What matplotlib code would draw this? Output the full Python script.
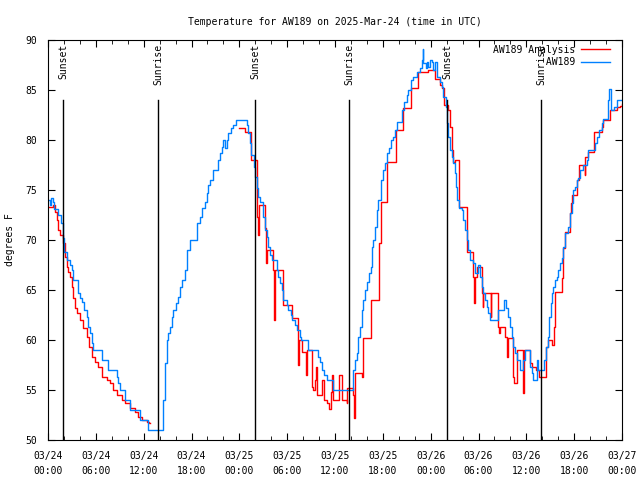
import numpy as np
import pandas as pd
import matplotlib
matplotlib.use("Agg")
import matplotlib.pyplot as plt
import matplotlib.dates as mdates
import matplotlib.transforms as mtransforms

plt.rcParams['font.family'] = ['DejaVu Sans Mono']
plt.rcParams['font.size'] = 7

start = pd.Timestamp('2025-03-24 00:00')

# AW189 observations (hours since start, degF)
obs_hours = [0.0, 0.25, 0.4, 0.6, 0.75, 1.3, 1.6, 1.85, 2.0, 2.35, 2.76, 2.95, 3.17, 3.8, 4.0, 4.22, 4.55, 4.85,
             5.06, 5.27, 5.48, 5.6, 6.73, 7.57, 8.6, 8.8, 9.0, 9.66, 10.29, 11.54, 12.58,
             14.26, 14.47, 14.68, 14.89, 15.1, 15.3, 15.5, 15.7, 16.1, 16.35, 16.56, 16.77, 17.18, 17.4, 17.8,
             18.65, 19.07, 19.28, 19.7, 19.9, 20.1, 20.3, 20.7, 21.36, 21.6, 21.8, 22.0, 22.2, 22.45, 22.6,
             23.0, 23.2, 23.55, 24.95, 25.1, 25.3, 25.5, 25.8, 25.97, 26.2, 26.4, 26.6, 27.0, 27.2, 27.43,
             27.63, 27.85, 28.06, 28.69, 28.89, 29.1, 29.31, 29.52, 29.94, 30.14, 30.44, 30.6, 30.98, 31.2,
             31.6, 31.7, 32.65, 33.83, 34.12, 34.33, 34.66, 34.96, 35.72, 38.3, 38.51, 38.72, 38.92, 39.14,
             39.35, 39.47, 39.76, 39.98, 40.3, 40.48, 40.68, 40.8, 41.02, 41.23, 41.43, 41.73, 42.06, 42.27,
             42.49, 42.77, 42.99, 43.31, 43.53, 43.82, 44.37, 44.66, 44.99, 45.2, 45.5, 45.82, 46.32, 46.66,
             46.88, 47.0, 47.1, 47.42, 47.58, 47.7, 47.92, 48.13, 48.33, 48.55, 48.76, 49.17, 49.38, 49.59,
             49.92, 50.09, 50.21, 50.43, 50.64, 50.84, 51.05, 51.18, 51.34, 51.59, 51.89, 52.1, 52.31, 52.52,
             52.72, 52.93, 53.35, 53.56, 53.98, 54.19, 54.4, 54.6, 54.82, 55.03, 55.23, 55.44, 56.48, 57.2,
             57.45, 57.74, 57.95, 58.16, 58.36, 58.58, 58.79, 59.2, 59.62, 59.83, 60.45, 60.66, 60.78, 61.3,
             61.5, 62.22, 62.47, 62.68, 62.88, 63.06, 63.26, 63.38, 63.6, 63.8, 64.0, 64.2, 64.42, 64.62,
             64.83, 65.26, 65.48, 65.69, 65.9, 66.1, 66.32, 66.52, 66.73, 67.15, 67.57, 67.78, 68.6, 68.9,
             69.15, 69.45, 69.66, 70.28, 70.4, 70.58, 71.0, 71.4, 72.0]
obs_temps = [74.0, 73.5, 74.2, 73.8, 73.1, 72.5, 71.7, 70.2, 68.8, 68.0, 67.5, 67.0, 66.0, 64.7, 64.2, 63.8, 63.0, 62.3,
             61.3, 60.7, 59.7, 59.0, 58.0, 57.0, 56.3, 55.7, 55.0, 54.0, 53.0, 52.0, 51.0,
             51.0, 54.0, 57.7, 60.0, 60.7, 61.3, 62.3, 63.0, 63.7, 64.3, 65.3, 66.0, 67.0, 69.0, 70.0,
             71.7, 72.3, 73.2, 73.8, 74.7, 75.5, 76.0, 77.0, 78.0, 78.7, 79.3, 80.0, 79.2, 80.0, 80.7,
             81.2, 81.5, 82.0, 81.5, 80.7, 79.7, 78.5, 77.3, 76.3, 75.2, 74.3, 73.8, 72.3, 71.0, 70.3,
             69.3, 68.5, 68.0, 67.0, 66.3, 65.7, 65.0, 64.0, 63.5, 63.0, 62.5, 62.0, 61.5, 61.0,
             60.3, 60.0, 59.0, 58.3, 57.8, 57.0, 56.5, 56.0, 55.0, 57.0, 58.0, 58.7, 60.3, 61.3,
             63.0, 64.0, 65.0, 65.8, 66.7, 67.3, 69.3, 70.0, 71.3, 73.0, 74.0, 76.0, 77.0, 77.7,
             78.7, 79.2, 80.0, 80.3, 81.0, 81.8, 83.0, 83.8, 84.5, 85.0, 86.0, 86.3, 86.8, 87.2,
             88.0, 89.1, 87.7, 87.2, 87.8, 87.3, 88.0, 87.8, 87.0, 87.8, 86.3, 85.8, 85.3, 84.3,
             83.3, 81.7, 80.3, 79.0, 78.3, 77.7, 76.7, 75.3, 74.0, 73.2, 73.0, 72.0, 71.0, 70.0,
             69.0, 68.0, 67.7, 66.7, 67.5, 66.3, 65.3, 64.7, 64.0, 63.3, 62.7, 62.0, 63.0, 64.0,
             63.2, 62.3, 61.3, 60.3, 59.3, 58.7, 58.0, 57.0, 58.0, 59.0, 57.3, 56.7, 56.0, 58.0,
             57.0, 58.0, 59.3, 60.3, 62.3, 63.7, 64.7, 65.3, 66.0, 66.3, 67.0, 67.7, 68.2, 69.3,
             70.7, 71.3, 72.7, 73.7, 75.0, 75.3, 76.0, 76.2, 77.0, 77.5, 78.0, 79.0, 79.7, 80.3,
             81.0, 81.7, 82.1, 84.0, 85.1, 83.0, 83.3, 84.0, 84.0]

# AW189 Analysis (hours since start, degF); NaN marks the gap
ana_hours = [0.0, 0.6, 0.88, 1.09, 1.29, 1.5, 1.84, 2.13, 2.35, 2.55, 2.76, 2.97, 3.17, 3.39, 3.6, 4.01, 4.43,
             4.85, 5.18, 5.48, 5.9, 6.31, 6.74, 7.36, 7.78, 8.19, 8.62, 9.24, 9.66, 10.29, 10.91, 11.33,
             11.75, 12.38, 12.71, 12.8,
             24.0, 24.71, 25.43, 25.46, 26.2, 26.4, 26.5, 27.2, 27.35, 27.4, 27.5, 28.26, 28.35, 28.47,
             29.52, 30.57, 31.32, 31.4, 31.48, 31.82, 32.33, 32.45, 33.08, 33.28, 33.5, 33.62, 33.7,
             34.4, 34.62, 34.96, 35.29, 35.46, 35.59, 35.79, 36.54, 36.84, 37.47, 37.54, 38.3, 38.42,
             38.55, 39.35, 39.47, 40.48, 41.52, 41.73, 42.56, 43.62, 44.57, 45.5, 46.45, 47.7, 48.55,
             49.17, 49.38, 49.67, 50.21, 50.43, 50.64, 50.84, 51.05, 51.59, 52.52, 53.35, 53.47, 53.6,
             53.77, 54.4, 54.53, 54.6, 55.53, 55.6, 56.48, 56.6, 56.7, 57.33, 57.54, 57.74, 58.36, 58.5,
             58.79, 59.6, 59.67, 59.77, 60.45, 60.66, 61.2, 61.63, 62.47, 62.77, 63.26, 63.47, 63.6,
             64.42, 64.55, 64.83, 65.46, 65.56, 65.69, 66.39, 66.64, 67.32, 67.4, 67.78, 68.49, 69.45,
             69.66, 70.49, 71.4, 71.74, 72.0]
ana_temps = [73.3, 73.5, 72.8, 72.0, 71.0, 70.5, 69.7, 68.3, 67.3, 66.8, 66.3, 65.3, 64.2, 63.2, 62.7, 62.0, 61.2,
             60.3, 59.3, 58.3, 57.8, 57.3, 56.3, 56.0, 55.7, 55.0, 54.5, 54.0, 53.7, 53.2, 52.8, 52.3,
             52.0, 51.8, 51.7, np.nan,
             81.2, 80.8, 79.7, 78.0, 72.3, 70.5, 73.5, 71.2, 69.2, 67.7, 69.0, 67.0, 62.0, 67.0,
             63.5, 62.2, 59.8, 57.5, 60.0, 58.8, 56.5, 59.0, 55.3, 55.0, 56.0, 57.3, 54.5,
             56.0, 54.0, 53.7, 53.1, 54.8, 56.5, 54.0, 56.5, 54.0, 53.7, 55.2, 54.5, 52.2,
             56.7, 56.3, 60.2, 64.0, 69.7, 73.8, 77.8, 81.0, 83.2, 85.2, 86.8, 87.0, 86.1,
             85.5, 85.2, 83.5, 83.0, 81.3, 79.0, 77.8, 78.0, 73.3, 68.8, 66.3, 63.7, 66.3,
             67.3, 64.7, 63.3, 64.7, 62.3, 64.7, 61.3, 60.7, 61.3, 60.3, 58.3, 60.2, 56.3, 55.7,
             59.0, 54.7, 57.7, 59.0, 57.7, 57.3, 57.0, 56.3, 59.3, 60.0, 59.5, 61.3, 64.8,
             66.2, 69.2, 70.8, 72.7, 73.7, 74.5, 76.0, 77.5, 76.5, 78.3, 78.8, 80.8, 81.3,
             82.0, 83.0, 83.3, 83.4, 83.6]

sun_labels = ['Sunset', 'Sunrise', 'Sunset', 'Sunrise', 'Sunset', 'Sunrise']
sun_hours = [1.88, 13.8, 25.97, 37.76, 50.05, 61.84]

obs_t = start + pd.to_timedelta(obs_hours, unit='h')
ana_t = start + pd.to_timedelta(ana_hours, unit='h')
sun_t = start + pd.to_timedelta(sun_hours, unit='h')

fig = plt.figure(figsize=(6.4, 4.8), dpi=100)
ax = fig.add_axes([48/640, 40/480, 574/640, 400/480])

ax.plot(ana_t, ana_temps, drawstyle='steps-post', color='#ff0000', lw=1.0, label='AW189 Analysis')
ax.plot(obs_t, obs_temps, drawstyle='steps-post', color='#0080ff', lw=1.0, label='         AW189')

trans = mtransforms.blended_transform_factory(ax.transData, ax.transAxes)
for t, lab in zip(sun_t, sun_labels):
    ax.axvline(t, ymin=0, ymax=0.85, color='black', lw=1.0)
    ax.text(t, 0.99, lab, transform=trans, rotation=90, ha='center', va='top', fontsize=7)

ax.set_xlim(start, start + pd.Timedelta(hours=72))
ax.set_ylim(50, 90)
ax.set_yticks(np.arange(50, 91, 5))
ax.xaxis.set_major_locator(mdates.HourLocator(byhour=[0, 6, 12, 18]))
ax.xaxis.set_minor_locator(mdates.HourLocator(byhour=list(range(0, 24, 2))))
ax.xaxis.set_major_formatter(mdates.DateFormatter('%m/%d\n%H:%M'))
ax.tick_params(which='both', direction='in', top=True, right=True, labelsize=7)
ax.tick_params(which='major', length=5, pad=8)
ax.tick_params(which='minor', length=3)
ax.tick_params(axis='y', pad=8)

ax.set_ylabel('degrees F', fontsize=7)
ax.yaxis.set_label_coords(-33/574, 0.5)
ax.set_title('Temperature for AW189 on 2025-Mar-24 (time in UTC)', fontsize=7, pad=11)

ax.legend(loc='upper right', frameon=False, markerfirst=False, fontsize=7, handlelength=3.0,
          borderaxespad=0.0, bbox_to_anchor=(1 - 8/574, 1 - 1/400),
          labelspacing=0.25, handletextpad=0.6)

fig.canvas.draw()
for lbl in ax.get_xticklabels():
    lbl.set_linespacing(1.55)

fig.savefig('out.png', dpi=100)
